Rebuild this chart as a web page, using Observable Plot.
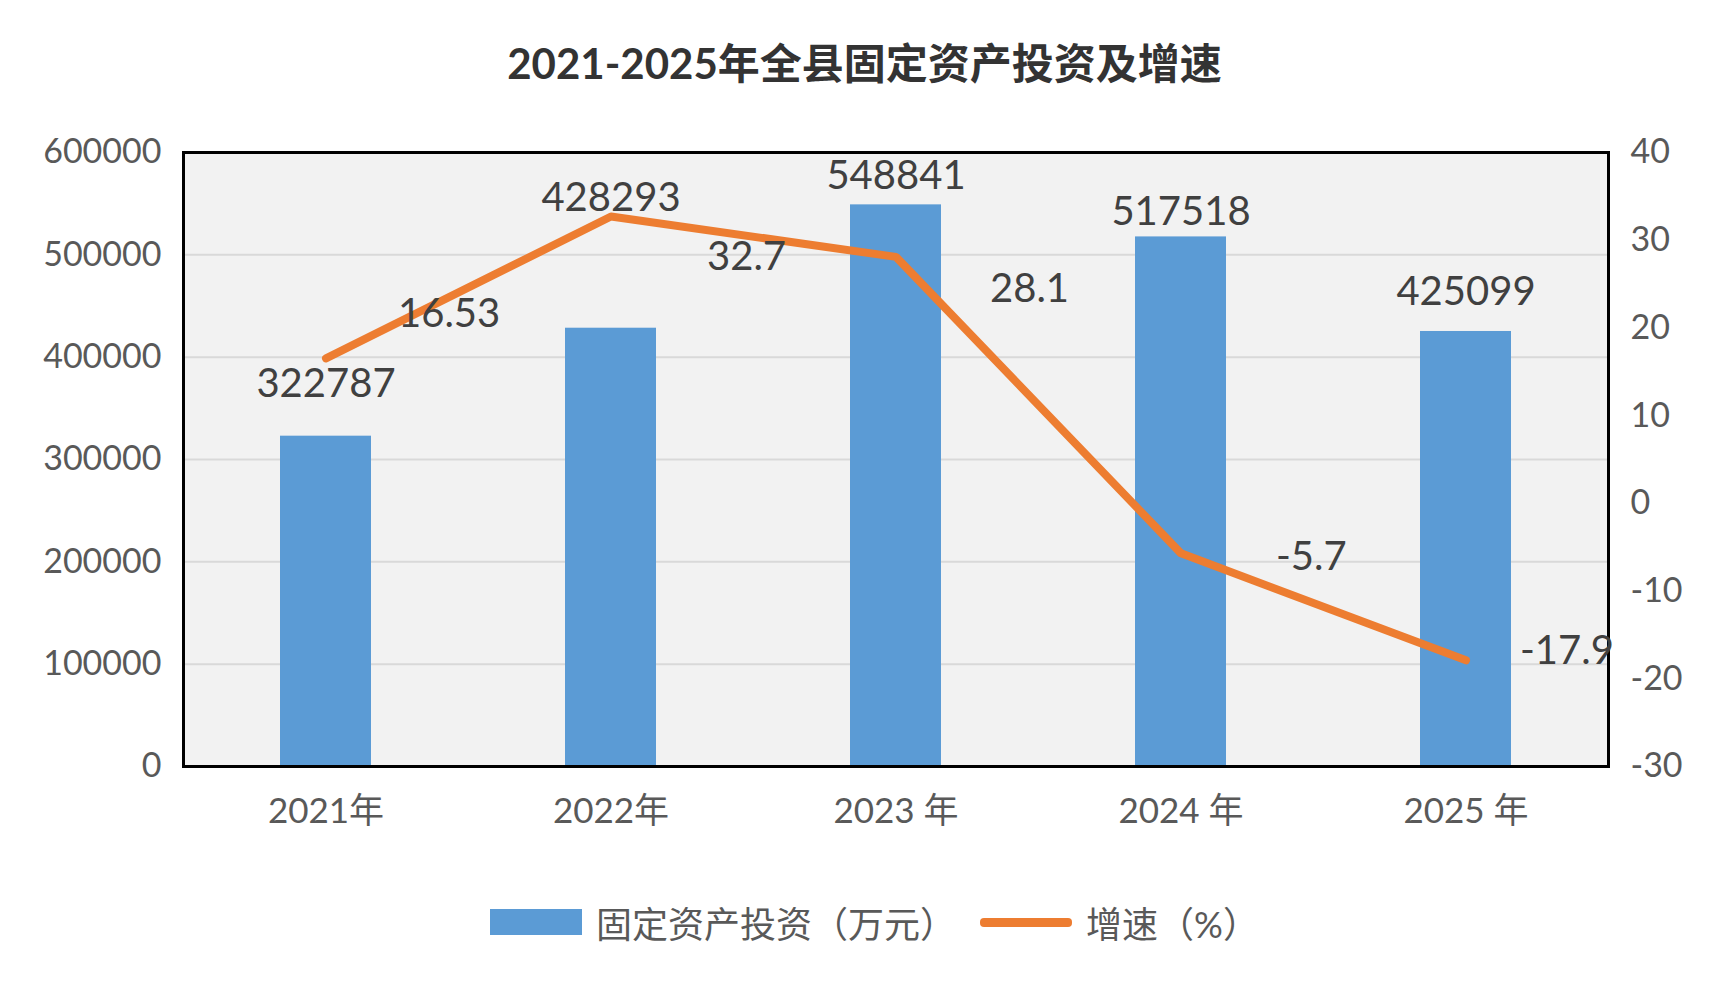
<!DOCTYPE html>
<html><head><meta charset="utf-8">
<script src="https://cdn.jsdelivr.net/npm/d3@7"></script>
<script src="https://cdn.jsdelivr.net/npm/@observablehq/plot@0.6"></script>
<style>
body{margin:0;background:#fff;font-family:Lato,"Noto Sans CJK SC",sans-serif;width:1729px;height:986px;overflow:hidden}
#title{height:110px;line-height:126px;text-align:center;font-size:42px;font-weight:bold;color:#333}
#legend{display:flex;justify-content:center;align-items:center;gap:14px;margin-top:40px;font-size:36px;color:#595959;margin-left:20px}
.sw{display:inline-block}
</style></head><body>
<div id="title">2021-2025年全县固定资产投资及增速</div>
<div id="chart"></div>
<div id="legend"><span class="sw" style="width:92px;height:26px;background:#5B9BD5"></span><span>固定资产投资（万元）</span><span class="sw" style="width:92px;height:9px;background:#ED7D31;margin-left:10px;border-radius:4px"></span><span>增速（%）</span></div>
<script>
const years = ["2021年","2022年","2023 年","2024 年","2025 年"];
const investment = [322787, 428293, 548841, 517518, 425099];
const growth = [16.53, 32.7, 28.1, -5.7, -17.9];
const growthLabels = ["16.53","32.7","28.1","-5.7","-17.9"];
const leftTicks = [0,100000,200000,300000,400000,500000,600000];
const rightTicks = [-30,-20,-10,0,10,20,30,40];
// label offsets (px)
const invDy = [-52,-130,-29,-25,-39];
const grDx = [72,96,94,95,54];
const grDy = [-44,41,32,4,-9];

const toLeft = g => (g + 30) / 70 * 600000;
const data = years.map((y,i)=>({year:y, inv:investment[i], g:growth[i], gy:toLeft(growth[i]), gl:growthLabels[i], idy:invDy[i], gdx:grDx[i], gdy:grDy[i]}));
const font = 'Lato,"Noto Sans CJK SC",sans-serif';

const marks = [
  Plot.frame({fill:"#F2F2F2"}),
  Plot.gridY(leftTicks.slice(1), {stroke:"#D9D9D9", strokeOpacity:1, strokeWidth:2}),
  Plot.barY(data, {x:"year", y:"inv", fill:"#5B9BD5"}),
  Plot.line(data, {x:"year", y:"gy", stroke:"#ED7D31", strokeWidth:8, strokeLinejoin:"round", strokeLinecap:"round"}),
  Plot.frame({stroke:"#000", strokeWidth:3}),
  Plot.axisY(leftTicks, {anchor:"left", tickSize:0, tickPadding:22, fontSize:34, fill:"#595959", tickFormat:d=>String(d), label:null}),
  Plot.axisY(rightTicks.map(toLeft), {anchor:"right", tickSize:0, tickPadding:22, fontSize:34, fill:"#595959", tickFormat:d=>String(Math.round(d/600000*70-30)), label:null}),
  Plot.axisX({tickSize:0, tickPadding:32, fontSize:35, fill:"#595959", label:null}),
];
data.forEach(d=>{
  marks.push(Plot.text([d], {x:"year", y:"inv", text:d=>String(d.inv), dy:d.idy, fontSize:40, fill:"#404040"}));
  marks.push(Plot.text([d], {x:"year", y:"gy", text:"gl", dx:d.gdx, dy:d.gdy, textAnchor:"start", fontSize:40, fill:"#404040"}));
});

const chart = Plot.plot({
  width:1729, height:746,
  marginLeft:183, marginRight:121, marginTop:42, marginBottom:90,
  style:{fontFamily:font, background:"transparent", overflow:"visible"},
  x:{type:"band", domain:years, paddingInner:0.68, paddingOuter:0.34, axis:null},
  y:{domain:[0,600000], axis:null},
  marks
});
document.getElementById("chart").appendChild(chart);
</script>
</body></html>
